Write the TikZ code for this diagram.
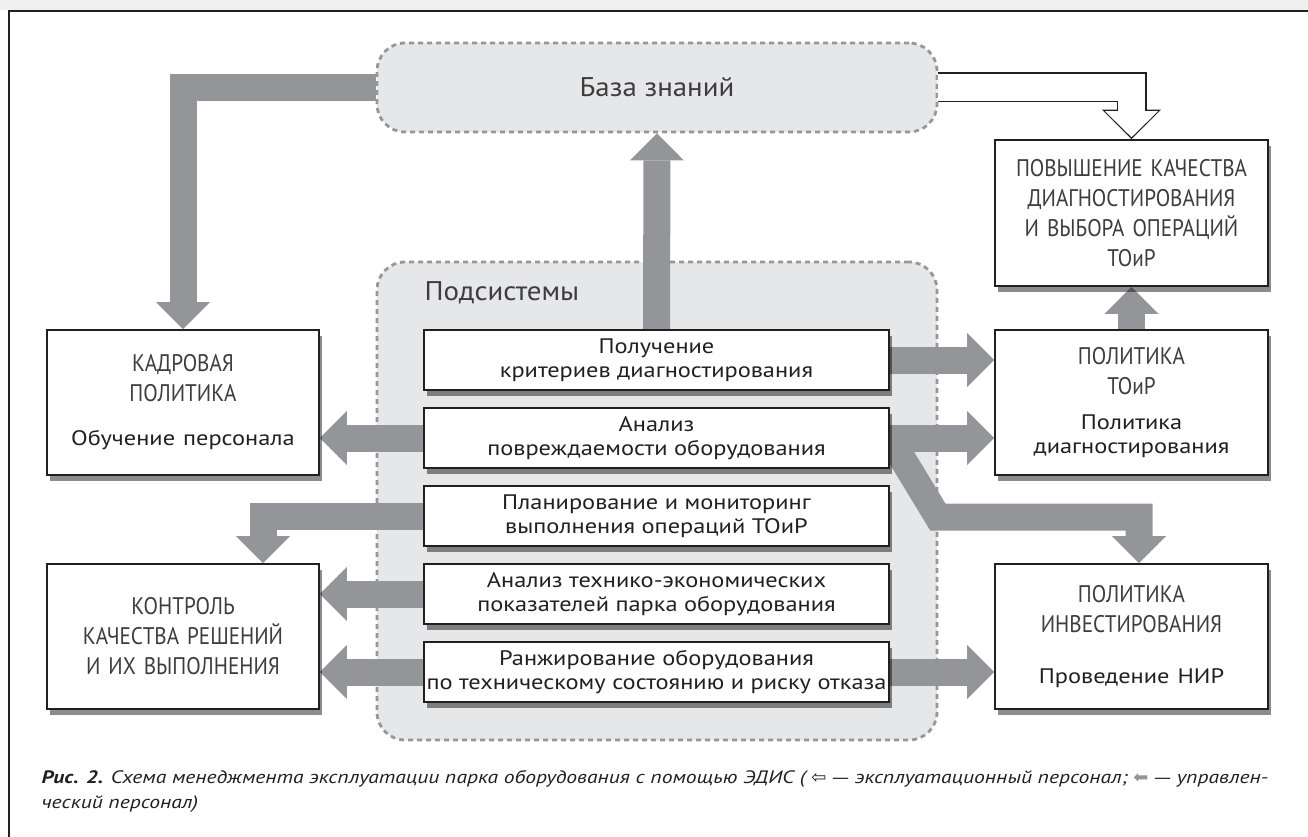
\documentclass[tikz,border=0pt]{standalone}
\usepackage{fontspec}
\setmainfont{PT Sans}
\newfontfamily\condfont[FakeStretch=0.88]{PT Sans}
\newfontfamily\panelfont[FakeStretch=1.07]{PT Sans}
\newfontfamily\notefont[FakeStretch=1.16]{PT Sans}
\newfontfamily\capfont[FakeStretch=1.2]{PT Sans}
\newfontfamily\symfont{DejaVu Sans}
\usetikzlibrary{arrows.meta,shadows,backgrounds}

\definecolor{fatgray}{RGB}{147,149,152}
\definecolor{panelgray}{RGB}{230,231,232}
\definecolor{dashgray}{RGB}{150,151,154}
\definecolor{inkblack}{RGB}{35,31,32}
\definecolor{lightink}{RGB}{62,60,61}

\pgfdeclarelayer{arrows}
\pgfsetlayers{background,arrows,main}

\newcommand\boxtitle{\condfont\fontsize{24}{30}\selectfont}
\newcommand\boxnote{\notefont\fontsize{21}{24}\selectfont\color{inkblack}}
\newcommand\longdash{{\upshape\symfont\fontsize{17}{25}\selectfont —}}

\tikzset{
	panel/.style={draw=dashgray, fill=panelgray, line width=2.8pt, dash pattern=on 5pt off 4pt, rounded corners=28pt},
	box/.style={draw=inkblack, fill=white, line width=1.6pt, align=center, inner sep=0pt,
		drop shadow={shadow xshift=3pt, shadow yshift=-6pt, opacity=.45, fill=black}},
	sidebox/.style={box, minimum width=272pt, minimum height=145pt, text width=262pt, text=lightink, font=\boxtitle},
	subbox/.style={box, minimum width=465pt, minimum height=60pt, text=inkblack, font=\boxnote},
	fat/.style={draw=fatgray, line width=27pt, line join=miter, -{Triangle[width=54pt,length=27pt,line width=0pt]}},
	hollowout/.style={draw=inkblack, line width=30pt, line join=miter, -{Triangle[width=59pt,length=29.5pt,line width=0pt]}},
	hollowin/.style={draw=white, line width=27pt, line join=miter, shorten >=2pt, -{Triangle[width=53pt,length=26pt,line width=0pt]}},
}

\begin{document}
\begin{tikzpicture}[x=1pt,y=-1pt]
	\useasboundingbox (0,0) rectangle (1308,837);
	\fill[black!6] (0,0) rectangle (1308,10);
	\draw[line width=1.3pt, inkblack] (1308,11) -- (9,11) -- (9,837);

	\begin{scope}[on background layer]
		\node[panel, minimum width=560pt, minimum height=89pt, font=\panelfont\fontsize{27}{32}\selectfont, text=lightink] (kb) at (657,87.5) {База знаний};
		\node[panel, minimum width=560pt, minimum height=478pt] (subsys) at (657,501) {};
	\end{scope}
	\node[anchor=west, font=\panelfont\fontsize{27}{32}\selectfont, text=lightink] (subsyslabel) at (421,293) {Подсистемы};

	\node[subbox] (crit) at (656.5,360) {Получение\\критериев диагностирования};
	\node[subbox] (damage) at (656.5,438) {Анализ\\повреждаемости оборудования};
	\node[subbox] (plan) at (656.5,516) {Планирование и мониторинг\\выполнения операций ТОиР};
	\node[subbox] (econ) at (656.5,594) {Анализ технико-экономических\\показателей парка оборудования};
	\node[subbox] (rank) at (656.5,672) {Ранжирование оборудования\\по техническому состоянию и риску отказа};

	\node[sidebox] (kadr) at (183,402.5) {КАДРОВАЯ\\ПОЛИТИКА\par\vspace{20pt}\boxnote Обучение персонала\par};
	\node[sidebox] (ctrl) at (183,636.5) {КОНТРОЛЬ\\КАЧЕСТВА РЕШЕНИЙ\\И ИХ ВЫПОЛНЕНИЯ\par};
	\node[sidebox, minimum width=273pt, minimum height=146pt] (quality) at (1131.5,213) {ПОВЫШЕНИЕ КАЧЕСТВА\\ДИАГНОСТИРОВАНИЯ\\И ВЫБОРА ОПЕРАЦИЙ\\ТОиР\par};
	\node[sidebox, minimum width=273pt] (toir) at (1131.5,402.5) {ПОЛИТИКА\\ТОиР\par\vspace{11pt}\boxnote Политика\\диагностирования\par};
	\node[sidebox, minimum width=273pt] (invest) at (1131.5,636.5) {ПОЛИТИКА\\ИНВЕСТИРОВАНИЯ\par\vspace{27pt}\boxnote Проведение НИР\par};

	\begin{pgfonlayer}{arrows}
		\draw[fat] (kb.west) -| (kadr.north);
		\draw[fat] (crit.north) -- (kb.south);
		\draw[fat] (crit.east) -- (crit.east -| toir.west);
		\draw[fat] (damage.east) -- (damage.east -| toir.west);
		\draw[fat] (damage.east) -- ++(48,79) -| ([xshift=7.5pt]invest.north);
		\draw[fat] (damage.west) -- (damage.west -| kadr.east);
		\draw[fat] (plan.west) -| ([xshift=80pt]ctrl.north);
		\draw[fat] (econ.west) -- (econ.west -| ctrl.east);
		\draw[fat] (rank.west) -- (rank.west -| ctrl.east);
		\draw[fat] (rank.east) -- (rank.east -| invest.west);
		\draw[fat] (toir.north) -- (quality.south);
		\draw[hollowout] (kb.east) -| (quality.north);
		\draw[hollowin] (kb.east) -| (quality.north);
	\end{pgfonlayer}

	\node[anchor=north west, align=left, text=inkblack, font=\capfont\itshape\fontsize{18}{25}\selectfont] (caption) at (38,767) {\textbf{Рис. 2.} Схема менеджмента эксплуатации парка оборудования с помощью ЭДИС ( {\upshape\symfont ⇦} \longdash{} эксплуатационный персонал; {\upshape\symfont\color{fatgray}⬅} \longdash{} управлен-\\ческий персонал)};
\end{tikzpicture}
\end{document}
